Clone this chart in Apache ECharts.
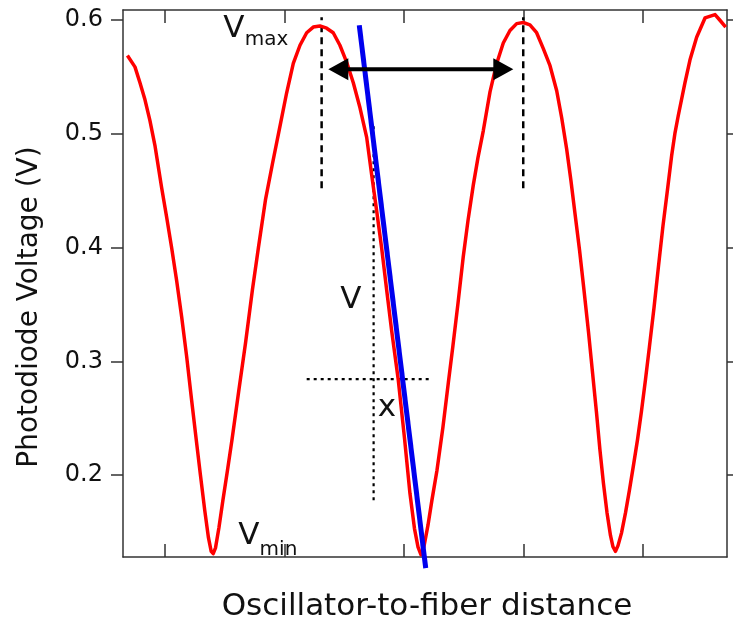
<!DOCTYPE html>
<html>
<head>
<meta charset="utf-8">
<script src="https://cdn.jsdelivr.net/npm/echarts@6/dist/echarts.min.js"></script>
<style>
html,body{margin:0;padding:0;background:#fff;}
#chart{width:733px;height:628px;}
</style>
</head>
<body>
<div id="chart"></div>
<script>
// ---- data (x in tick units, y in volts) ----
const distance = [-0.314,-0.251,-0.209,-0.167,-0.126,-0.084,-0.028,0.014,0.056,0.098,0.140,0.182,0.223,0.262,0.297,0.333,0.364,0.387,0.404,0.423,0.452,0.485,0.523,0.561,0.619,0.674,0.732,0.782,0.841,0.900,0.961,1.018,1.074,1.130,1.186,1.241,1.297,1.353,1.408,1.464,1.521,1.576,1.632,1.688,1.730,1.772,1.813,1.855,1.897,1.952,2.004,2.050,2.088,2.117,2.142,2.167,2.201,2.234,2.276,2.326,2.371,2.410,2.452,2.496,2.536,2.580,2.619,2.664,2.720,2.776,2.831,2.887,2.943,2.998,3.054,3.110,3.166,3.222,3.278,3.320,3.361,3.397,3.431,3.469,3.506,3.544,3.577,3.611,3.640,3.669,3.699,3.728,3.749,3.770,3.791,3.820,3.854,3.887,3.921,3.954,3.987,4.021,4.054,4.092,4.130,4.167,4.205,4.240,4.268,4.295,4.351,4.393,4.449,4.519,4.603,4.644,4.692];
const voltage = [0.569,0.559,0.545,0.530,0.512,0.490,0.453,0.427,0.400,0.371,0.339,0.304,0.266,0.231,0.200,0.169,0.145,0.133,0.131,0.136,0.154,0.178,0.204,0.231,0.275,0.316,0.363,0.400,0.442,0.474,0.506,0.536,0.562,0.578,0.589,0.594,0.595,0.593,0.589,0.578,0.563,0.545,0.523,0.497,0.464,0.432,0.400,0.363,0.327,0.284,0.233,0.184,0.153,0.137,0.130,0.137,0.156,0.178,0.204,0.242,0.281,0.314,0.351,0.392,0.424,0.455,0.479,0.503,0.537,0.562,0.580,0.591,0.597,0.598,0.596,0.589,0.575,0.560,0.538,0.514,0.487,0.459,0.430,0.398,0.363,0.326,0.291,0.255,0.222,0.193,0.167,0.147,0.137,0.133,0.138,0.149,0.167,0.187,0.209,0.231,0.256,0.284,0.313,0.347,0.384,0.419,0.451,0.481,0.501,0.516,0.545,0.565,0.585,0.602,0.605,0.600,0.594];

const yTickValues = [0.2, 0.3, 0.4, 0.5, 0.6];
const xTickValues = [0, 1, 2, 3, 4];

// annotation geometry (data units)
const peakLineX = [1.311, 2.998];
const peakLineY = [0.4523, 0.6026];
const arrowX = [1.367, 2.915];
const arrowY = 0.557;
const tangentX = [1.626, 2.182];
const tangentY = [0.5956, 0.1182];
const crossVX = 1.746;
const crossVY = [0.178, 0.5077];
const crossHY = 0.2844;
const crossHX = [1.186, 2.218];

const labelText = ['V', 'max', 'V', 'min', 'V', 'x'];
const labelX = [0.577, 0.851, 0.703, 0.950, 1.556, 1.858];
const labelY = [0.5925, 0.5824, 0.1464, 0.134, 0.3543, 0.2589];
const labelBig = [true, false, true, false, true, true];

// ---- chart ----
const chart = echarts.init(document.getElementById('chart'), null, {renderer: 'canvas'});
const FONT = 'DejaVu Sans';
const axisColor = '#333';

function pairs(xs, ys) { return xs.map((x, i) => [x, ys[i]]); }

const series = [];
// dotted cross lines
series.push({
  type: 'line', silent: true, symbol: 'none', animation: false, z: 1,
  data: [[crossVX, crossVY[0]], [crossVX, crossVY[1]]],
  lineStyle: {color: '#000', width: 2.2, type: [3, 4]}
});
series.push({
  type: 'line', silent: true, symbol: 'none', animation: false, z: 1,
  data: [[crossHX[0], crossHY], [crossHX[1], crossHY]],
  lineStyle: {color: '#000', width: 2.2, type: [3, 4]}
});
// dashed peak markers
peakLineX.forEach(px => {
  series.push({
    type: 'line', silent: true, symbol: 'none', animation: false, z: 1,
    data: [[px, peakLineY[0]], [px, peakLineY[1]]],
    lineStyle: {color: '#000', width: 2.5, type: [7, 5]}
  });
});
// main curve
series.push({
  type: 'line', silent: true, symbol: 'none', animation: false, z: 2,
  data: pairs(distance, voltage),
  lineStyle: {color: '#ff0000', width: 3.5, join: 'round'}
});
// tangent
series.push({
  type: 'line', silent: true, symbol: 'none', animation: false, z: 3, clip: false,
  data: pairs(tangentX, tangentY),
  lineStyle: {color: '#0000ee', width: 5}
});
// double arrow
series.push({
  type: 'custom', silent: true, animation: false, z: 4, clip: false,
  data: [[arrowX[0], arrowX[1], arrowY]],
  renderItem: function (params, api) {
    const p1 = api.coord([api.value(0), api.value(2)]);
    const p2 = api.coord([api.value(1), api.value(2)]);
    const L = 20, W = 11;
    return {
      type: 'group',
      children: [
        {type: 'line', shape: {x1: p1[0] + L - 2, y1: p1[1], x2: p2[0] - L + 2, y2: p2[1]}, style: {stroke: '#000', lineWidth: 4}},
        {type: 'polygon', shape: {points: [[p1[0], p1[1]], [p1[0] + L, p1[1] - W], [p1[0] + L, p1[1] + W]]}, style: {fill: '#000'}},
        {type: 'polygon', shape: {points: [[p2[0], p2[1]], [p2[0] - L, p2[1] - W], [p2[0] - L, p2[1] + W]]}, style: {fill: '#000'}}
      ]
    };
  }
});
// text labels
series.push({
  type: 'custom', silent: true, animation: false, z: 5, clip: false,
  data: labelX.map((x, i) => [x, labelY[i]]),
  renderItem: function (params, api) {
    const p = api.coord([api.value(0), api.value(1)]);
    const i = params.dataIndex;
    return {
      type: 'text', x: p[0], y: p[1],
      style: {
        text: labelText[i], fill: '#111',
        fontFamily: FONT, fontSize: labelBig[i] ? 31 : 20,
        align: 'center', verticalAlign: 'middle'
      }
    };
  }
});

const xCommon = {
  type: 'value', min: -0.351, max: 4.703,
  axisLine: {show: true, onZero: false, lineStyle: {color: axisColor, width: 1.5}},
  axisTick: {show: true, inside: true, length: 13, customValues: xTickValues, lineStyle: {color: axisColor, width: 1.5}},
  axisLabel: {show: false},
  splitLine: {show: false}
};
const yCommon = {
  type: 'value', min: 0.128, max: 0.609,
  axisLine: {show: true, onZero: false, lineStyle: {color: axisColor, width: 1.5}},
  axisTick: {show: true, inside: false, length: 12, customValues: yTickValues, lineStyle: {color: axisColor, width: 1.5}},
  splitLine: {show: false}
};

chart.setOption({
  animation: false,
  backgroundColor: '#fff',
  grid: {left: 123, right: 6, top: 10, bottom: 71, containLabel: false, outerBoundsMode: 'none'},
  xAxis: [
    Object.assign({}, xCommon, {position: 'bottom'}),
    Object.assign({}, xCommon, {position: 'top'})
  ],
  yAxis: [
    Object.assign({}, yCommon, {position: 'left',
      axisLabel: {show: true, customValues: yTickValues, margin: 20, color: '#111', fontFamily: FONT, fontSize: 24,
        formatter: v => v.toFixed(1)}}),
    Object.assign({}, yCommon, {position: 'right', axisLabel: {show: false}})
  ],
  series: series,
  graphic: [
    {type: 'text', x: 427, y: 607, style: {text: 'Oscillator-to-fiber distance', fontFamily: FONT, fontSize: 31, fill: '#111', align: 'center', verticalAlign: 'middle'}},
    {type: 'text', x: 30, y: 307, rotation: Math.PI / 2, style: {text: 'Photodiode Voltage (V)', fontFamily: FONT, fontSize: 28, fill: '#111', align: 'center', verticalAlign: 'middle'}}
  ]
});
</script>
</body>
</html>
